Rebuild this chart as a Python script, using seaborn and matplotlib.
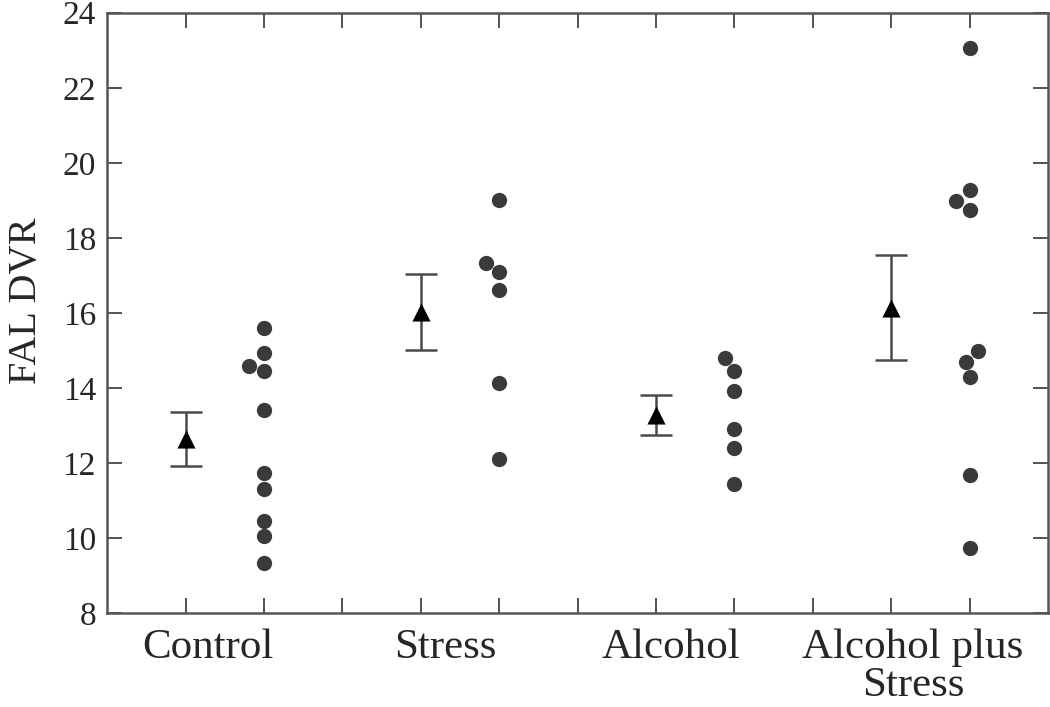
import numpy as np
import pandas as pd
import matplotlib
matplotlib.use("Agg")
import matplotlib.pyplot as plt
import seaborn as sns

# ---- data ----
groups = ["Control", "Stress", "Alcohol", "Alcohol plus\nStress"]
control = [15.59, 14.94, 14.57, 14.44, 13.41, 11.73, 11.30, 10.45, 10.04, 9.32]
stress = [19.01, 17.32, 17.10, 16.61, 14.12, 12.10]
alcohol = [14.79, 14.46, 13.92, 12.90, 12.39, 11.44]
alc_stress = [23.06, 19.28, 18.97, 18.75, 14.97, 14.68, 14.28, 11.68, 9.72]
group_means = [12.63, 16.02, 13.28, 16.14]
group_sems = [0.72, 1.02, 0.53, 1.41]
yticks = [8, 10, 12, 14, 16, 18, 20, 22, 24]
ylabel = "FAL DVR"

sns.set_style("ticks")
plt.rcParams["font.family"] = ["Liberation Serif", "DejaVu Serif"]

# positions: triangle at 3i+1, dots at 3i+2
mean_pos = [3 * i + 1 for i in range(len(groups))]
dot_pos = [3 * i + 2 for i in range(len(groups))]

rows = []
for p, vals in zip(dot_pos, [control, stress, alcohol, alc_stress]):
    for v in vals:
        rows.append({"pos": p, "FAL": v})
df = pd.DataFrame(rows)
mdf = pd.DataFrame({"pos": mean_pos, "mean": group_means, "sem": group_sems})

fig = plt.figure(figsize=(10.5, 7.07), dpi=100)
ax = fig.add_axes([0.102, 0.133, 0.896, 0.849])

sns.swarmplot(data=df, x="pos", y="FAL", native_scale=True, orient="x",
              color="#3a3a3a", size=11, linewidth=0, ax=ax, zorder=3)

ax.errorbar(mdf["pos"], mdf["mean"], yerr=mdf["sem"], fmt="none",
            ecolor="#4a4a4a", elinewidth=1.8, capsize=11.5, capthick=1.8, zorder=2)
sns.scatterplot(data=mdf, x="pos", y="mean", marker="^", color="black",
                s=170, linewidth=0, ax=ax, zorder=4)

ax.set_xlim(0, 12)
ax.set_ylim(8, 24)
ax.set_xticks(range(1, 12))
ax.set_xticklabels([])
ax.set_yticks(yticks)
ax.set_yticklabels([str(t) for t in yticks], fontsize=24)
ax.set_xlabel("")
ax.set_ylabel(ylabel, fontsize=29)
ax.yaxis.set_label_coords(-0.066, 0.52)

ax.tick_params(axis="both", which="major", direction="in", length=11,
               width=1.3, color="#444444", top=True, right=True, pad=8)
for s in ax.spines.values():
    s.set_visible(True)
    s.set_color("#555555")
    s.set_linewidth(1.8)

label_x = [1.28, 4.31, 7.19, 10.28]
for x, g in zip(label_x, groups):
    ax.text(x, -0.026, g, transform=ax.get_xaxis_transform(), ha="center",
            va="top", fontsize=31, linespacing=0.98)

fig.savefig("out.png", dpi=100, facecolor="white")
